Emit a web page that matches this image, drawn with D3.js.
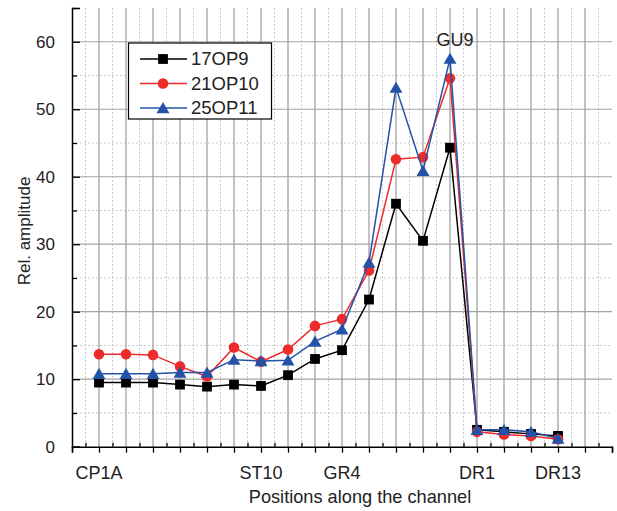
<!DOCTYPE html>
<html>
<head>
<meta charset="utf-8">
<script src="https://cdn.jsdelivr.net/npm/d3@7"></script>
<style>
  html, body { margin: 0; padding: 0; background: #fff; }
  svg { display: block; font-family: "Liberation Sans", Arial, sans-serif; }
</style>
</head>
<body>
<svg id="chart" width="617" height="511"></svg>
<script>
// Measurement positions along the channel (1..18) and the labelled stations
const positions = [1, 2, 3, 4, 5, 6, 7, 8, 9, 10, 11, 12, 13, 14, 15, 16, 17, 18];
const stationLabels = [
  { pos: 1, name: "CP1A" },
  { pos: 7, name: "ST10" },
  { pos: 10, name: "GR4" },
  { pos: 15, name: "DR1" },
  { pos: 18, name: "DR13" }
];
const peakLabel = { pos: 14, name: "GU9" };

// Relative amplitude per campaign
const op9  = [9.5, 9.5, 9.5, 9.2, 8.9, 9.2, 9.0, 10.6, 13.0, 14.3, 21.8, 36.0, 30.5, 44.3, 2.5, 2.2, 1.9, 1.6];
const op10 = [13.7, 13.7, 13.6, 11.9, 10.4, 14.7, 12.6, 14.4, 17.9, 18.9, 26.1, 42.6, 42.9, 54.6, 2.2, 1.8, 1.6, 1.1];
const op11 = [10.8, 10.8, 10.8, 11.0, 11.0, 12.9, 12.7, 12.8, 15.6, 17.4, 27.3, 53.2, 40.9, 57.5, 2.5, 2.5, 2.2, 1.2];

const seriesNames = ["17OP9", "21OP10", "25OP11"];
const yTicks = [0, 10, 20, 30, 40, 50, 60];

const series = [
  { name: seriesNames[0], values: op9,  color: "#000000", symbol: d3.symbolSquare,   size: 96 },
  { name: seriesNames[1], values: op10, color: "#ee2b2b", symbol: d3.symbolCircle,   size: 88 },
  { name: seriesNames[2], values: op11, color: "#2352a6", symbol: d3.symbolTriangle, size: 72 }
];

const svg = d3.select("#chart");
const plotLeft = 72, plotRight = 612, plotTop = 8, plotBottom = 446.7;

const x = d3.scaleLinear().domain([0, 20]).range([plotLeft, plotRight]);
const y = d3.scaleLinear().domain([0, 65]).range([plotBottom, plotTop]);

const textColor = "#222";

// Grid: solid at major steps, dashed at minor steps
const grid = svg.append("g");
const majorX = d3.range(1, 20);
const minorX = d3.range(0.5, 20, 1);
const majorY = d3.range(10, 61, 10);
const minorY = d3.range(5, 60, 10);

grid.selectAll(".mnx").data(minorX).join("line")
  .attr("x1", d => x(d)).attr("x2", d => x(d))
  .attr("y1", plotTop).attr("y2", plotBottom)
  .attr("stroke", "#bdbdbd").attr("stroke-width", 0.8).attr("stroke-dasharray", "2,2");
grid.selectAll(".mny").data(minorY).join("line")
  .attr("x1", plotLeft).attr("x2", plotRight)
  .attr("y1", d => y(d)).attr("y2", d => y(d))
  .attr("stroke", "#bdbdbd").attr("stroke-width", 0.8).attr("stroke-dasharray", "2,2");
grid.selectAll(".mjx").data(majorX).join("line")
  .attr("x1", d => x(d)).attr("x2", d => x(d))
  .attr("y1", plotTop).attr("y2", plotBottom)
  .attr("stroke", "#b3b3b3").attr("stroke-width", 1.6);
grid.selectAll(".mjy").data(majorY).join("line")
  .attr("x1", plotLeft).attr("x2", plotRight)
  .attr("y1", d => y(d)).attr("y2", d => y(d))
  .attr("stroke", "#a3a3a3").attr("stroke-width", 1.2);

// Axes
const xAxisMajor = d3.axisBottom(x).tickValues(d3.range(0, 21)).tickSize(6).tickFormat("");
const xAxisMinor = d3.axisTop(x).tickValues(minorX).tickSize(4).tickFormat("");
const yAxisMajor = d3.axisLeft(y).tickValues(yTicks).tickSize(-8).tickPadding(17).tickFormat(d3.format("d"));
const yAxisMinor = d3.axisLeft(y).tickValues(d3.range(5, 66, 10)).tickSize(-5).tickFormat("");

function styleAxis(g) {
  g.select(".domain").attr("stroke", "#000").attr("stroke-width", 1.5);
  g.selectAll(".tick line").attr("stroke", "#000").attr("stroke-width", 1.3);
  g.selectAll("text").attr("fill", textColor).attr("font-size", 17)
    .attr("font-family", "Liberation Sans, Arial, sans-serif");
}

svg.append("g").attr("transform", `translate(0,${plotBottom})`).call(xAxisMajor).call(styleAxis);
svg.append("g").attr("transform", `translate(0,${plotBottom})`).call(xAxisMinor).call(styleAxis)
  .select(".domain").remove();
svg.append("g").attr("transform", `translate(${plotLeft},0)`).call(yAxisMajor).call(styleAxis);
svg.append("g").attr("transform", `translate(${plotLeft},0)`).call(yAxisMinor).call(styleAxis)
  .select(".domain").remove();

// Station labels under the x axis
svg.append("g").selectAll("text").data(stationLabels).join("text")
  .attr("x", d => x(d.pos)).attr("y", plotBottom + 32)
  .attr("text-anchor", "middle").attr("font-size", 18).attr("fill", textColor)
  .text(d => d.name);

// Axis titles
svg.append("text")
  .attr("x", 360).attr("y", 503)
  .attr("text-anchor", "middle").attr("font-size", 18.2).attr("fill", textColor)
  .text("Positions along the channel");
svg.append("text")
  .attr("transform", `translate(30,231) rotate(-90)`)
  .attr("text-anchor", "middle").attr("font-size", 17).attr("fill", textColor)
  .text("Rel. amplitude");

// Series lines and markers
const line = d3.line().x((d, i) => x(positions[i])).y(d => y(d));

series.forEach(s => {
  const g = svg.append("g");
  g.append("path").datum(s.values)
    .attr("d", line).attr("fill", "none")
    .attr("stroke", s.color).attr("stroke-width", 1.5);
  g.selectAll("path.m").data(s.values).join("path").attr("class", "m")
    .attr("transform", (d, i) => `translate(${x(positions[i])},${y(d) + (s.symbol === d3.symbolTriangle ? 1.5 : 0)})`)
    .attr("d", d3.symbol().type(s.symbol).size(s.size))
    .attr("fill", s.color);
});

// Peak station label
svg.append("text")
  .attr("x", x(peakLabel.pos) + 5).attr("y", 46)
  .attr("text-anchor", "middle").attr("font-size", 18).attr("fill", textColor)
  .text(peakLabel.name);

// Legend
const legend = svg.append("g");
legend.append("rect")
  .attr("x", 128.5).attr("y", 43).attr("width", 143).attr("height", 76)
  .attr("fill", "#fff").attr("stroke", "#000").attr("stroke-width", 1.2);
series.forEach((s, i) => {
  const ly = 59 + i * 24.5;
  legend.append("line")
    .attr("x1", 140).attr("x2", 187).attr("y1", ly).attr("y2", ly)
    .attr("stroke", s.color).attr("stroke-width", 1.5);
  legend.append("path")
    .attr("transform", `translate(163,${ly + (s.symbol === d3.symbolTriangle ? 1.5 : 0)})`)
    .attr("d", d3.symbol().type(s.symbol).size(s.size))
    .attr("fill", s.color);
  legend.append("text")
    .attr("x", 191).attr("y", ly).attr("dy", "0.35em")
    .attr("font-size", 18.5).attr("fill", textColor)
    .text(s.name);
});
</script>
</body>
</html>
